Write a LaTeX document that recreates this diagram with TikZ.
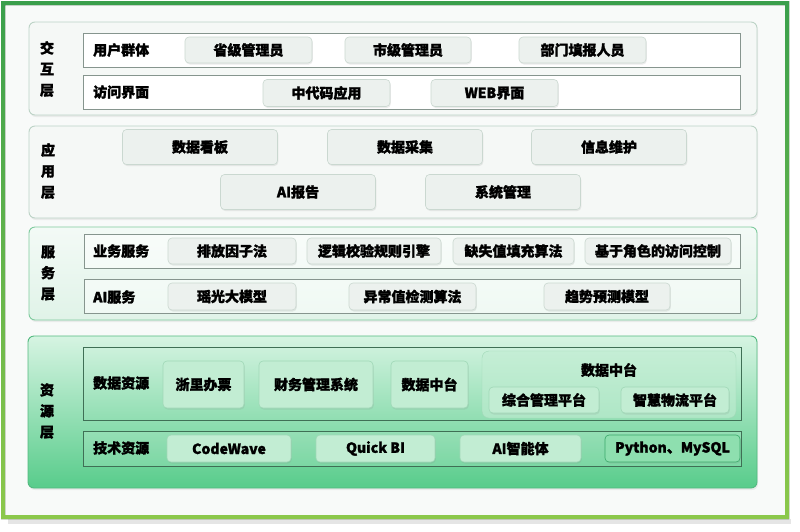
\documentclass[tikz,border=0pt]{standalone}
\usepackage{fontspec}
\setmainfont{Noto Sans CJK SC}[BoldFeatures={FakeBold=1.6}]
\usetikzlibrary{shadows}
\definecolor{frametop}{HTML}{3A9F4C}
\definecolor{framebot}{HTML}{8CC84B}
\definecolor{paper}{HTML}{F8FAF9}
\definecolor{layerline}{HTML}{BCD3C6}
\definecolor{layerfill}{HTML}{F5F8F6}
\definecolor{rowline}{HTML}{86958E}
\definecolor{chipline}{HTML}{CAD8D0}
\definecolor{chipfill}{HTML}{ECF1EE}
\definecolor{svcline}{HTML}{7FCB9E}
\definecolor{svctop}{HTML}{F3FAF6}
\definecolor{svcbot}{HTML}{E0F3E8}
\definecolor{restop}{HTML}{D6F4E2}
\definecolor{resbot}{HTML}{58CC8B}
\definecolor{resline}{HTML}{52B97F}
\definecolor{resrow}{HTML}{3F6F55}
\definecolor{reschip}{HTML}{C2EDD3}
\definecolor{reschipline}{HTML}{A0D8B7}
\definecolor{pychip}{HTML}{8EDFAF}
\definecolor{pyline}{HTML}{3AA86A}
\tikzset{
  layer/.style={rounded corners=6pt, draw=layerline, fill=layerfill, line width=0.9pt,
    drop shadow={opacity=0.12, shadow xshift=1pt, shadow yshift=-2pt}},
  rowbox/.style={draw=rowline, line width=1pt},
  chip/.style={rounded corners=4pt, draw=chipline, fill=chipfill, line width=0.6pt,
    inner sep=0pt, font=\chipfont,
    drop shadow={opacity=0.15, shadow xshift=0.8pt, shadow yshift=-1.5pt}},
  reschipbox/.style={chip, draw=reschipline, fill=reschip},
  tag/.style={anchor=west, inner sep=0pt, font=\chipfont},
  side/.style={align=center, inner sep=0pt, font=\sidefont},
}
\newcommand{\chipfont}{\fontsize{14}{16}\selectfont\bfseries}
\newcommand{\sidefont}{\fontsize{14}{21}\selectfont\bfseries}
\begin{document}
\begin{tikzpicture}[x=1pt,y=-1pt]
\useasboundingbox (0,0) rectangle (800,531);
% frame
\fill[black!10] (8,519) rectangle (791,524);
\fill[paper] (3,3) rectangle (786,516);
\fill[even odd rule, top color=frametop, bottom color=framebot]
  (1,1) rectangle (789,519) (5,5) rectangle (785,515);

% 交互层
\draw[layer] (29,22) rectangle (757,115);
\node[side] (jh) at (47,69) {交\\互\\层};
\draw[rowbox, fill=white] (83,33) rectangle (740,67);
\draw[rowbox, fill=white] (83,75) rectangle (740,109);
\node[tag] (yhqt) at (93,50) {用户群体};
\node[tag] (fwjm) at (93,92) {访问界面};
\node[chip, minimum width=127, minimum height=26] (sj) at (248.5,50) {省级管理员};
\node[chip, minimum width=126, minimum height=26] (shj) at (408,50) {市级管理员};
\node[chip, minimum width=127, minimum height=26] (bm) at (582.5,50) {部门填报人员};
\node[chip, minimum width=127, minimum height=27] (zdm) at (326.5,93) {中代码应用};
\node[chip, minimum width=127, minimum height=27] (web) at (494.5,93) {WEB界面};

% 应用层
\draw[layer] (29,126) rectangle (757,218);
\node[side] (yy) at (48,171) {应\\用\\层};
\node[chip, minimum width=155, minimum height=35] (sjkb) at (200,147) {数据看板};
\node[chip, minimum width=155, minimum height=35] (sjcj) at (405,147) {数据采集};
\node[chip, minimum width=155, minimum height=35] (xxwh) at (609,147) {信息维护};
\node[chip, minimum width=155, minimum height=35] (aibg) at (298,192) {AI报告};
\node[chip, minimum width=155, minimum height=35] (xtgl) at (503,192) {系统管理};

% 服务层
\draw[layer, draw=svcline, top color=svctop, bottom color=svcbot] (29,227) rectangle (757,320);
\node[side] (fw) at (48,273) {服\\务\\层};
\draw[rowbox, fill=white, fill opacity=0.5] (84,234) rectangle (740,268);
\draw[rowbox, fill=white, fill opacity=0.5] (84,279) rectangle (740,313);
\node[tag] (ywfw) at (93,251) {业务服务};
\node[tag] (aifw) at (93,297) {AI服务};
\node[chip, minimum width=128, minimum height=26] (pf) at (232,251) {排放因子法};
\node[chip, minimum width=134, minimum height=26] (lj) at (374,251) {逻辑校验规则引擎};
\node[chip, minimum width=121, minimum height=26] (qs) at (513.5,251) {缺失值填充算法};
\node[chip, minimum width=146, minimum height=26] (js) at (658,251) {基于角色的访问控制};
\node[chip, minimum width=128, minimum height=27] (yg) at (232,296.5) {瑶光大模型};
\node[chip, minimum width=127, minimum height=27] (yc) at (412.5,296.5) {异常值检测算法};
\node[chip, minimum width=126, minimum height=27] (qsyc) at (607,296.5) {趋势预测模型};

% 资源层
\draw[layer, draw=resline, top color=restop, bottom color=resbot] (28,336) rectangle (757,488);
\node[side] (zy) at (47,411) {资\\源\\层};
\draw[rowbox, draw=resrow] (83,347) rectangle (741,420);
\draw[rowbox, draw=resrow, fill=white, fill opacity=0.12] (83,431) rectangle (741,466);
\node[tag] (sjzy) at (93,383) {数据资源};
\node[tag] (jszy) at (93,448) {技术资源};
\node[reschipbox, minimum width=81, minimum height=47] (zlbp) at (203.5,384.5) {浙里办票};
\node[reschipbox, minimum width=114, minimum height=47] (cw) at (316,384.5) {财务管理系统};
\node[reschipbox, minimum width=77, minimum height=47] (sjzt) at (429.5,384.5) {数据中台};
\draw[rounded corners=7pt, draw=reschipline, fill=reschip, fill opacity=0.6] (482,351) rectangle (736,418);
\node[inner sep=0pt, font=\chipfont] (ztt) at (609,370) {数据中台};
\node[reschipbox, minimum width=110, minimum height=26] (zh) at (544,400) {综合管理平台};
\node[reschipbox, minimum width=108, minimum height=26] (zhwl) at (675,400) {智慧物流平台};
\node[reschipbox, minimum width=124, minimum height=27] (cwv) at (229,448.5) {CodeWave};
\node[reschipbox, minimum width=119, minimum height=27] (qbi) at (375.5,448.5) {Quick BI};
\node[reschipbox, minimum width=121, minimum height=27] (znt) at (520.5,448.5) {AI智能体};
\node[reschipbox, draw=pyline, fill=pychip, minimum width=135, minimum height=27] (py) at (672.5,448.5) {Python、MySQL};
\end{tikzpicture}
\end{document}
